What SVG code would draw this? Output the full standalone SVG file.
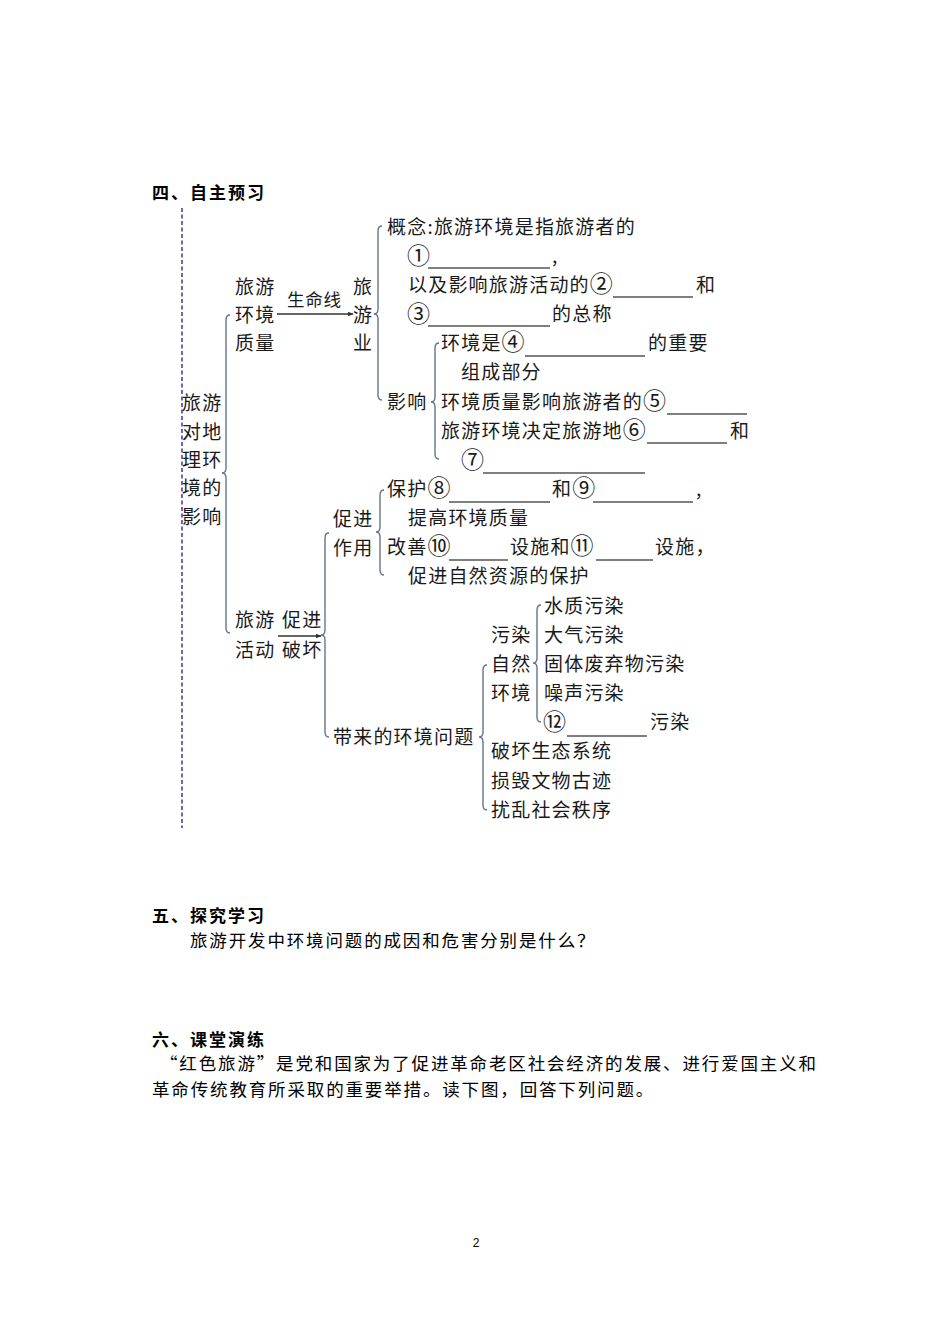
<svg xmlns="http://www.w3.org/2000/svg" width="950" height="1344" viewBox="0 0 950 1344">
<style>
  .t { font-family: "Noto Sans CJK SC", "Noto Sans", sans-serif; font-size: 19px; letter-spacing: 1.2px; fill: #1a1a1a; }
  .c { font-size: 23px; letter-spacing: 0; }
  .s { font-family: "Noto Sans CJK SC", "Noto Sans", sans-serif; font-size: 17.5px; letter-spacing: 0.8px; fill: #1a1a1a; }
  .h { font-family: "Noto Sans CJK SC", "Noto Sans", sans-serif; font-size: 17px; font-weight: bold; letter-spacing: 2px; fill: #000; }
  .b { font-family: "Noto Sans CJK SC", "Noto Sans", sans-serif; font-size: 17.5px; letter-spacing: 1.85px; fill: #000; }
  .brace { fill: none; stroke: #66748a; stroke-width: 1.4; }
  .blank { stroke: #000; stroke-width: 1.2; }
  .arrow { stroke: #333; stroke-width: 1.3; fill: none; marker-end: url(#ah); }
</style>
<defs>
  <marker id="ah" viewBox="0 0 10 10" refX="9" refY="5" markerWidth="6" markerHeight="6" orient="auto" markerUnits="userSpaceOnUse">
    <path d="M0,1 L10,5 L0,9 Z" fill="#333"/>
  </marker>
</defs>
<rect width="950" height="1344" fill="#fff"/>

<text class="h" x="152" y="199">四、自主预习</text>
<line x1="182" y1="208" x2="182" y2="828" stroke="#1a1a8c" stroke-width="1.3" stroke-dasharray="4,2.5"/>

<g id="connectors">
  <path class="brace" d="M230,315 Q226,315 226,320 L226,468 Q226,473 222,473 Q226,473 226,478 L226,628 Q226,633 230,633"/>
  <path class="brace" d="M382,226 Q378,226 378,231 L378,309 Q378,314 374,314 Q378,314 378,319 L378,395 Q378,400 382,400"/>
  <path class="brace" d="M439,343 Q435,343 435,348 L435,397 Q435,402 431,402 Q435,402 435,407 L435,454 Q435,459 439,459"/>
  <path class="brace" d="M384,490 Q380,490 380,495 L380,527 Q380,532 376,532 Q380,532 380,537 L380,570 Q380,575 384,575"/>
  <path class="brace" d="M329,533 Q325,533 325,538 L325,630 Q325,635 321,635 Q325,635 325,640 L325,732 Q325,737 329,737"/>
  <path class="brace" d="M487,665 Q483,665 483,670 L483,732 Q483,737 479,737 Q483,737 483,742 L483,805 Q483,810 487,810"/>
  <path class="brace" d="M541,605 Q537,605 537,610 L537,658 Q537,663 533,663 Q537,663 537,668 L537,717 Q537,722 541,722"/>
  <line class="arrow" x1="277" y1="314" x2="353" y2="314"/>
  <line class="arrow" x1="278" y1="636" x2="321" y2="636"/>
</g>

<g id="root">
  <text class="t" x="182" y="410">旅游</text>
  <text class="t" x="182" y="439">对地</text>
  <text class="t" x="182" y="467">理环</text>
  <text class="t" x="182" y="495">境的</text>
  <text class="t" x="182" y="524">影响</text>
</g>

<g id="quality">
  <text class="t" x="235" y="294">旅游</text>
  <text class="t" x="235" y="322">环境</text>
  <text class="t" x="235" y="350">质量</text>
</g>
<g id="lifeline-label"><text class="s" x="287" y="306">生命线</text></g>
<g id="industry">
  <text class="t" x="353" y="294">旅</text>
  <text class="t" x="353" y="322">游</text>
  <text class="t" x="353" y="350">业</text>
</g>

<g id="concept">
  <text class="t" x="387" y="234">概念:旅游环境是指旅游者的</text>
  <text class="t" x="407" y="264"><tspan class="c">①</tspan></text>
  <line class="blank" x1="428" y1="268" x2="550" y2="268"/>
  <text class="t" x="552" y="263">,</text>
  <text class="t" x="408" y="292">以及影响旅游活动的<tspan class="c">②</tspan></text>
  <line class="blank" x1="613" y1="297" x2="693" y2="297"/>
  <text class="t" x="696" y="292">和</text>
  <text class="t" x="407" y="322"><tspan class="c">③</tspan></text>
  <line class="blank" x1="428" y1="326" x2="550" y2="326"/>
  <text class="t" x="552" y="321">的总称</text>
</g>

<g id="influence">
  <text class="t" x="387" y="409">影响</text>
</g>
<g id="influence-items">
  <text class="t" x="441" y="350">环境是<tspan class="c">④</tspan></text>
  <line class="blank" x1="525" y1="356" x2="645" y2="356"/>
  <text class="t" x="648" y="350">的重要</text>
  <text class="t" x="461" y="379">组成部分</text>
  <text class="t" x="441" y="409">环境质量影响旅游者的<tspan class="c">⑤</tspan></text>
  <line class="blank" x1="667" y1="414" x2="747" y2="414"/>
  <text class="t" x="441" y="438">旅游环境决定旅游地<tspan class="c">⑥</tspan></text>
  <line class="blank" x1="647" y1="443" x2="727" y2="443"/>
  <text class="t" x="730" y="438">和</text>
  <text class="t" x="461" y="468"><tspan class="c">⑦</tspan></text>
  <line class="blank" x1="483" y1="473" x2="645" y2="473"/>
</g>

<g id="activity">
  <text class="t" x="235" y="627">旅游</text>
  <text class="t" x="235" y="657">活动</text>
</g>
<g id="arrow-labels">
  <text class="t" x="282" y="627">促进</text>
  <text class="t" x="282" y="657">破坏</text>
</g>

<g id="promote">
  <text class="t" x="333" y="526">促进</text>
  <text class="t" x="333" y="555">作用</text>
</g>
<g id="promote-items">
  <text class="t" x="387" y="496">保护<tspan class="c">⑧</tspan></text>
  <line class="blank" x1="449" y1="502" x2="550" y2="502"/>
  <text class="t" x="552" y="496">和<tspan class="c">⑨</tspan></text>
  <line class="blank" x1="593" y1="502" x2="693" y2="502"/>
  <text class="t" x="696" y="496">,</text>
  <text class="t" x="408" y="525">提高环境质量</text>
  <text class="t" x="387" y="554">改善<tspan class="c">⑩</tspan></text>
  <line class="blank" x1="449" y1="560" x2="508" y2="560"/>
  <text class="t" x="510" y="554">设施和<tspan class="c">⑪</tspan></text>
  <line class="blank" x1="596" y1="560" x2="653" y2="560"/>
  <text class="t" x="655" y="554">设施，</text>
  <text class="t" x="408" y="583">促进自然资源的保护</text>
</g>

<g id="problems">
  <text class="t" x="333" y="744">带来的环境问题</text>
</g>
<g id="pollution">
  <text class="t" x="491" y="642">污染</text>
  <text class="t" x="491" y="671">自然</text>
  <text class="t" x="491" y="700">环境</text>
</g>
<g id="pollution-items">
  <text class="t" x="544" y="613">水质污染</text>
  <text class="t" x="544" y="642">大气污染</text>
  <text class="t" x="544" y="671">固体废弃物污染</text>
  <text class="t" x="544" y="700">噪声污染</text>
  <text class="t" x="543" y="730"><tspan class="c">⑫</tspan></text>
  <line class="blank" x1="567" y1="736" x2="647" y2="736"/>
  <text class="t" x="650" y="729">污染</text>
</g>
<g id="other-problems">
  <text class="t" x="491" y="758">破坏生态系统</text>
  <text class="t" x="491" y="788">损毁文物古迹</text>
  <text class="t" x="491" y="817">扰乱社会秩序</text>
</g>

<text class="h" x="152" y="922">五、探究学习</text>
<text class="b" x="190" y="947">旅游开发中环境问题的成因和危害分别是什么？</text>

<text class="h" x="152" y="1046">六、课堂演练</text>
<text class="b" x="160" y="1070">“红色旅游”是党和国家为了促进革命老区社会经济的发展、进行爱国主义和</text>
<text class="b" x="152" y="1096">革命传统教育所采取的重要举措。读下图，回答下列问题。</text>

<text x="476" y="1247" font-family="Liberation Sans, sans-serif" font-size="12" text-anchor="middle" fill="#000">2</text>
</svg>
